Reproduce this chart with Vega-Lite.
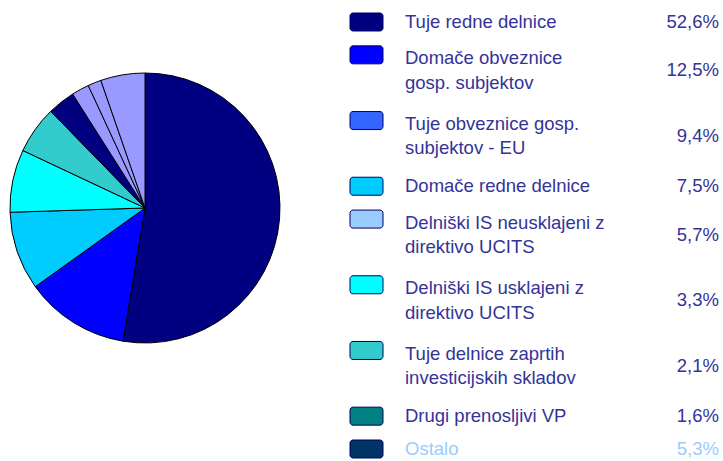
{
  "$schema": "https://vega.github.io/schema/vega-lite/v6.json",
  "padding": 0,
  "spacing": 0,
  "background": "white",
  "config": {"view": {"stroke": null}, "font": "Liberation Sans"},
  "data": {"values": [
    {"order": 1, "name": "Tuje redne delnice", "lines": ["Tuje redne delnice"], "nlines": 1, "pct": 52.6},
    {"order": 2, "name": "Domače obveznice gosp. subjektov", "lines": ["Domače obveznice", "gosp. subjektov"], "nlines": 2, "pct": 12.5},
    {"order": 3, "name": "Tuje obveznice gosp. subjektov - EU", "lines": ["Tuje obveznice gosp.", "subjektov - EU"], "nlines": 2, "pct": 9.4},
    {"order": 4, "name": "Domače redne delnice", "lines": ["Domače redne delnice"], "nlines": 1, "pct": 7.5},
    {"order": 5, "name": "Delniški IS neusklajeni z direktivo UCITS", "lines": ["Delniški IS neusklajeni z", "direktivo UCITS"], "nlines": 2, "pct": 5.7},
    {"order": 6, "name": "Delniški IS usklajeni z direktivo UCITS", "lines": ["Delniški IS usklajeni z", "direktivo UCITS"], "nlines": 2, "pct": 3.3},
    {"order": 7, "name": "Tuje delnice zaprtih investicijskih skladov", "lines": ["Tuje delnice zaprtih", "investicijskih skladov"], "nlines": 2, "pct": 2.1},
    {"order": 8, "name": "Drugi prenosljivi VP", "lines": ["Drugi prenosljivi VP"], "nlines": 1, "pct": 1.6},
    {"order": 9, "name": "Ostalo", "lines": ["Ostalo"], "nlines": 1, "pct": 5.3}
  ]},
  "resolve": {"scale": {"color": "independent"}},
  "hconcat": [
    {
      "width": 290,
      "height": 416,
      "mark": {"type": "arc", "outerRadius": 135, "stroke": "#000000", "strokeWidth": 1},
      "encoding": {
        "theta": {"field": "pct", "type": "quantitative", "stack": true},
        "order": {"field": "order", "type": "quantitative"},
        "color": {
          "field": "name", "type": "nominal", "legend": null,
          "scale": {
            "domain": ["Tuje redne delnice", "Domače obveznice gosp. subjektov", "Tuje obveznice gosp. subjektov - EU", "Domače redne delnice", "Delniški IS neusklajeni z direktivo UCITS", "Delniški IS usklajeni z direktivo UCITS", "Tuje delnice zaprtih investicijskih skladov", "Drugi prenosljivi VP", "Ostalo"],
            "range": ["#000080", "#0000FF", "#00CCFF", "#00FFFF", "#33CCCC", "#000080", "#9999FF", "#9999FF", "#9999FF"]
          }
        }
      }
    },
    {
      "width": 433,
      "height": 461,
      "transform": [
        {"window": [{"op": "sum", "field": "nlines", "as": "cum"}], "sort": [{"field": "order"}]},
        {"calculate": "datum.cum - datum.nlines", "as": "slot"},
        {"calculate": "datum.slot - 0.274", "as": "slotTop"},
        {"calculate": "datum.slot + 0.274", "as": "slotBottom"},
        {"calculate": "datum.slot + (datum.nlines - 1) * 0.107", "as": "labelSlot"},
        {"calculate": "datum.slot + (datum.nlines - 1) * 0.47", "as": "pctSlot"},
        {"calculate": "replace(format(datum.pct, '.1f'), '.', ',') + '%'", "as": "pctLabel"}
      ],
      "layer": [
        {
          "mark": {"type": "rect", "cornerRadius": 3, "stroke": "#000066", "strokeWidth": 1},
          "encoding": {
            "x": {"value": 60},
            "x2": {"value": 93},
            "y": {"field": "slotTop", "type": "quantitative", "axis": null, "scale": {"domain": [0, 13], "range": [22, 449]}},
            "y2": {"field": "slotBottom"},
            "color": {
              "field": "name", "type": "nominal", "legend": null,
              "scale": {
                "domain": ["Tuje redne delnice", "Domače obveznice gosp. subjektov", "Tuje obveznice gosp. subjektov - EU", "Domače redne delnice", "Delniški IS neusklajeni z direktivo UCITS", "Delniški IS usklajeni z direktivo UCITS", "Tuje delnice zaprtih investicijskih skladov", "Drugi prenosljivi VP", "Ostalo"],
                "range": ["#000080", "#0000FF", "#3366FF", "#00CCFF", "#99CCFF", "#00FFFF", "#33CCCC", "#008080", "#003366"]
              }
            }
          }
        },
        {
          "mark": {"type": "text", "align": "left", "baseline": "alphabetic", "dy": 6, "fontSize": 18.5, "lineHeight": 24.3},
          "encoding": {
            "x": {"value": 115},
            "y": {"field": "labelSlot", "type": "quantitative"},
            "text": {"field": "lines", "type": "nominal"},
            "color": {"condition": {"test": "datum.name === 'Ostalo'", "value": "#99CCFF"}, "value": "#333399"}
          }
        },
        {
          "mark": {"type": "text", "align": "right", "baseline": "alphabetic", "dy": 6, "fontSize": 18.5},
          "encoding": {
            "x": {"value": 429},
            "y": {"field": "pctSlot", "type": "quantitative"},
            "text": {"field": "pctLabel", "type": "nominal"},
            "color": {"condition": {"test": "datum.name === 'Ostalo'", "value": "#99CCFF"}, "value": "#333399"}
          }
        }
      ]
    }
  ]
}
